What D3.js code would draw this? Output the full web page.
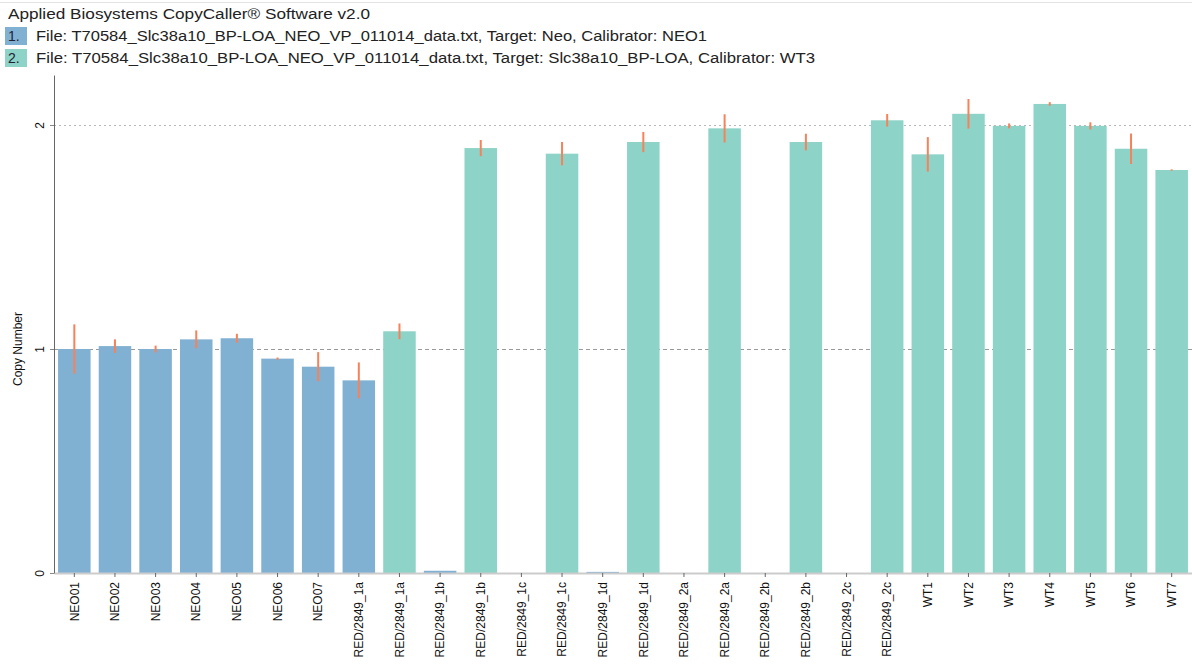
<!DOCTYPE html>
<html>
<head>
<meta charset="utf-8">
<script src="https://cdn.jsdelivr.net/npm/d3@7"></script>
<style>
  body { margin: 0; background: #fff; }
  svg { font-family: "Liberation Sans", Arial, sans-serif; }
  .narrow { font-family: "Liberation Sans Narrow", "Arial Narrow", "Liberation Sans", sans-serif; }
</style>
</head>
<body>
<div id="chart"></div>
<script>
// sample names, one per slot
var labels = ["NEO01", "NEO02", "NEO03", "NEO04", "NEO05", "NEO06", "NEO07",
  "RED/2849_1a", "RED/2849_1a", "RED/2849_1b", "RED/2849_1b", "RED/2849_1c", "RED/2849_1c",
  "RED/2849_1d", "RED/2849_1d", "RED/2849_2a", "RED/2849_2a", "RED/2849_2b", "RED/2849_2b",
  "RED/2849_2c", "RED/2849_2c", "WT1", "WT2", "WT3", "WT4", "WT5", "WT6", "WT7"];
// which file the bar belongs to (1 = Neo, 2 = Slc38a10)
var series = [1, 1, 1, 1, 1, 1, 1, 1, 2, 1, 2, 1, 2, 1, 2, 1, 2, 1, 2, 1, 2, 2, 2, 2, 2, 2, 2, 2];
var values = [1.00, 1.013, 1.00, 1.043, 1.048, 0.957, 0.921, 0.86, 1.079,
  0.01, 1.897, 0, 1.872, 0.005, 1.924, 0, 1.985, 0, 1.924, 0, 2.021,
  1.869, 2.05, 1.996, 2.094, 1.996, 1.894, 1.799];
var errors = [0.11, 0.03, 0.015, 0.04, 0.02, 0.005, 0.065, 0.08, 0.035,
  0, 0.036, 0, 0.052, 0, 0.045, 0, 0.063, 0, 0.037, 0, 0.028,
  0.077, 0.066, 0.011, 0.008, 0.016, 0.068, 0.003];
var yTicks = [0, 1, 2];
var title = "Applied Biosystems CopyCaller\u00ae Software v2.0";
var headerLines = [
  "File: T70584_Slc38a10_BP-LOA_NEO_VP_011014_data.txt, Target: Neo, Calibrator: NEO1",
  "File: T70584_Slc38a10_BP-LOA_NEO_VP_011014_data.txt, Target: Slc38a10_BP-LOA, Calibrator: WT3"
];
var headerWidths = [671, 779];

var colors = {1: "#80b1d3", 2: "#8dd3c7"};
var W = 1192, H = 666;
var mLeft = 54, mRight = 1192, mTop = 75, mBottom = 573;

var svg = d3.select("#chart").append("svg")
  .attr("width", W).attr("height", H);

svg.append("line")
  .attr("x1", 0).attr("x2", W).attr("y1", 2.5).attr("y2", 2.5)
  .attr("stroke", "#e4e4e4");

svg.append("text")
  .attr("x", 8).attr("y", 19)
  .attr("font-size", 14).attr("fill", "#222")
  .attr("textLength", 362).attr("lengthAdjust", "spacingAndGlyphs")
  .text(title);

var hdr = svg.selectAll("g.hdr")
  .data(headerLines)
  .enter().append("g")
    .attr("class", "hdr")
    .attr("transform", function(d, i) { return "translate(0," + (27 + i * 22) + ")"; });
hdr.append("rect")
  .attr("x", 5).attr("y", 0).attr("width", 22).attr("height", 18)
  .attr("fill", function(d, i) { return colors[i + 1]; });
hdr.append("text")
  .attr("x", 8).attr("y", 14)
  .attr("font-size", 14).attr("fill", "#223")
  .text(function(d, i) { return (i + 1) + "."; });
hdr.append("text")
  .attr("x", 36).attr("y", 14)
  .attr("font-size", 14).attr("fill", "#222")
  .attr("textLength", function(d, i) { return headerWidths[i]; })
  .attr("lengthAdjust", "spacingAndGlyphs")
  .text(function(d) { return d; });

var x = d3.scaleBand()
  .domain(d3.range(labels.length))
  .range([mLeft, mRight])
  .paddingInner(0.2)
  .paddingOuter(0.1);

var y = d3.scaleLinear()
  .domain([0, (mBottom - mTop) / 224])
  .range([mBottom, mTop]);

// grid lines (the one at 2 is dotted, the one at 1 dashed)
svg.selectAll("line.grid")
  .data(yTicks.filter(function(d) { return d > 0; }))
  .enter().append("line")
    .attr("class", "grid")
    .attr("x1", mLeft).attr("x2", mRight)
    .attr("y1", function(d) { return y(d) + 0.5; })
    .attr("y2", function(d) { return y(d) + 0.5; })
    .attr("stroke", function(d) { return d == 2 ? "#b8b8b8" : "#9a9a9a"; })
    .attr("stroke-dasharray", function(d) { return d == 2 ? "2,3" : "4,3"; });

// bars
svg.selectAll("rect.bar")
  .data(values)
  .enter().append("rect")
    .attr("class", "bar")
    .attr("x", function(d, i) { return x(i); })
    .attr("width", x.bandwidth())
    .attr("y", function(d) { return y(d); })
    .attr("height", function(d) { return y(0) - y(d); })
    .attr("fill", function(d, i) { return colors[series[i]]; });

// error bars
svg.selectAll("line.err")
  .data(values)
  .enter().append("line")
    .attr("class", "err")
    .attr("x1", function(d, i) { return x(i) + x.bandwidth() / 2; })
    .attr("x2", function(d, i) { return x(i) + x.bandwidth() / 2; })
    .attr("y1", function(d, i) { return y(d + errors[i]); })
    .attr("y2", function(d, i) { return y(d - errors[i]); })
    .attr("stroke", "#f7825a")
    .attr("stroke-width", 2);

// x axis
var xAxis = d3.axisBottom(x)
  .tickFormat(function(i) { return labels[i]; })
  .tickSize(4)
  .tickSizeOuter(0);
var gx = svg.append("g")
  .attr("transform", "translate(0," + mBottom + ")")
  .call(xAxis);
gx.select(".domain").attr("stroke", "#ccc").attr("stroke-width", 2);
gx.selectAll(".tick line").attr("stroke", "#666");
gx.selectAll(".tick text")
  .attr("class", "narrow")
  .attr("font-size", 12)
  .attr("fill", "#111")
  .attr("transform", "rotate(-90)")
  .attr("text-anchor", "end")
  .attr("x", -9)
  .attr("y", 0)
  .attr("dy", "0.35em");

// y axis
var yAxis = d3.axisLeft(y)
  .tickValues(yTicks)
  .tickFormat(d3.format("d"))
  .tickSize(4)
  .tickSizeOuter(0);
var gy = svg.append("g")
  .attr("transform", "translate(" + mLeft + ",0)")
  .call(yAxis);
gy.select(".domain").attr("stroke", "#666");
gy.selectAll(".tick line").attr("stroke", "#888");
gy.selectAll(".tick text")
  .attr("font-size", 12)
  .attr("fill", "#111")
  .attr("transform", "rotate(-90)")
  .attr("text-anchor", "middle")
  .attr("x", 0)
  .attr("y", -10)
  .attr("dy", 0);

svg.append("text")
  .attr("class", "narrow")
  .attr("transform", "translate(22," + y(1) + ") rotate(-90)")
  .attr("text-anchor", "middle")
  .attr("font-size", 12)
  .attr("fill", "#111")
  .text("Copy Number");
</script>
</body>
</html>
